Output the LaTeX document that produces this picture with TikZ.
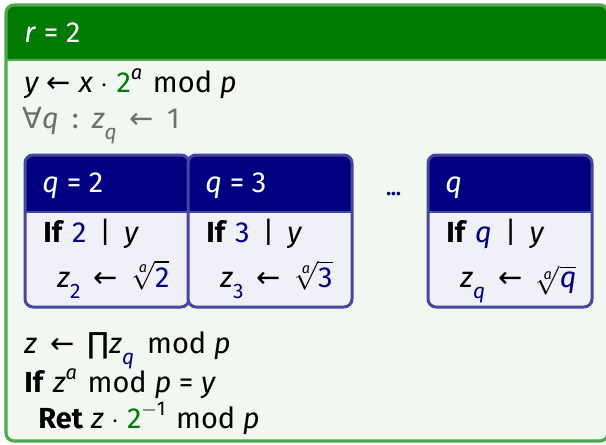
\documentclass[tikz,border=0pt]{standalone}
\usepackage{fontspec}
\usepackage{amsmath}
\setmainfont{Fira Sans}
\newfontfamily\symfont{DejaVu Sans}

\definecolor{rgreen}{HTML}{007A00}
\definecolor{rframe}{HTML}{4FA84F}
\definecolor{rbody}{HTML}{F1F7F1}
\definecolor{qnavy}{HTML}{000080}
\definecolor{qframe}{HTML}{4646A0}
\definecolor{qbody}{HTML}{F0F1F8}
\definecolor{dimtext}{HTML}{6E6E6E}

\newcommand{\getsto}{{\symfont\char"2190}}
\newcommand{\vr}[1]{\textit{#1}}
\newcommand{\lowsub}[1]{\raisebox{-0.38em}{\fontsize{10.5}{12}\selectfont #1}}
\newcommand{\hisup}[1]{\raisebox{0.42em}{\fontsize{10}{12}\selectfont #1}\kern0.1em\relax}
\newcommand{\aroot}[1]{$\sqrt[\vr{a}]{\text{\textcolor{qnavy}{#1}}}$}
\newcommand{\gap}{\hspace{0.45em}}

\tikzset{
  txt/.style={anchor=base west, inner sep=0pt},
  qhead/.style={txt, text=white},
}

% one q-box: name, left x, title, value
\newcommand{\qbox}[4]{%
  \begin{scope}
    \clip[rounded corners=4pt] (#2,155) rectangle ({#2+164},307);
    \fill[qbody] (#2,155) rectangle ({#2+164},307);
    \fill[qnavy] (#2,155) rectangle ({#2+164},212);
    \draw[qframe, line width=1.2pt] (#2,212) -- ({#2+164},212);
  \end{scope}
  \draw[qframe, line width=1.5pt, rounded corners=4pt] (#2,155) rectangle ({#2+164},307);
  \node[qhead] (#1head) at ({#2+17},192) {#3};
  \node[txt] (#1if) at ({#2+18},242) {\textbf{If} \textcolor{qnavy}{#4}\gap|\gap\vr{y}};
  \node[txt] (#1root) at ({#2+32},287) {\vr{z}\lowsub{\textcolor{qnavy}{#4}}\gap\getsto\gap\aroot{#4}};
}

\begin{document}
\begin{tikzpicture}[x=0.5pt, y=-0.5pt, every node/.style={font=\fontsize{14.5}{17}\selectfont}]
  \useasboundingbox (0,0) rectangle (606,445);
  % outer r-block
  \begin{scope}
    \clip[rounded corners=4pt] (6,5) rectangle (608,441);
    \fill[rbody] (6,5) rectangle (608,441);
    \fill[rgreen] (6,5) rectangle (608,60);
    \draw[rframe, line width=1.4pt] (6,60) -- (608,60);
  \end{scope}
  \draw[rframe, line width=1.6pt, rounded corners=4pt] (6,5) rectangle (608,441);
  \node[qhead] (title) at (24,42) {\vr{r} = 2};

  \node[txt] (ycalc) at (24,92) {\vr{y} \getsto{} \vr{x} $\cdot$ \textcolor{rgreen}{2}\hisup{\vr{a}} mod \vr{p}};
  \node[txt, text=dimtext] (zinit) at (22,128) {{\symfont\char"2200}\vr{q}\gap:\gap\vr{z}\lowsub{\vr{q}}\gap\getsto\gap1};

  % the q-boxes
  \qbox{two}{25}{\vr{q} = 2}{2}
  \qbox{three}{188}{\vr{q} = 3}{3}
  \qbox{gen}{428}{\vr{q}}{\vr{q}}
  \node[txt, text=qnavy, font=\bfseries] (dots) at (386,195) {...};

  \node[txt] (zprod) at (24,353) {\vr{z}\gap\getsto\gap{\symfont\char"220F}\vr{z}\lowsub{\textcolor{qnavy}{\vr{q}}}\gap mod \vr{p}};
  \node[txt] (check) at (24,392) {\textbf{If} \vr{z}\hisup{\vr{a}} mod \vr{p} = \vr{y}};
  \node[txt] (ret) at (38,428) {\textbf{Ret} \vr{z} $\cdot$ \textcolor{rgreen}{2}\hisup{$-$1} mod \vr{p}};
\end{tikzpicture}
\end{document}
